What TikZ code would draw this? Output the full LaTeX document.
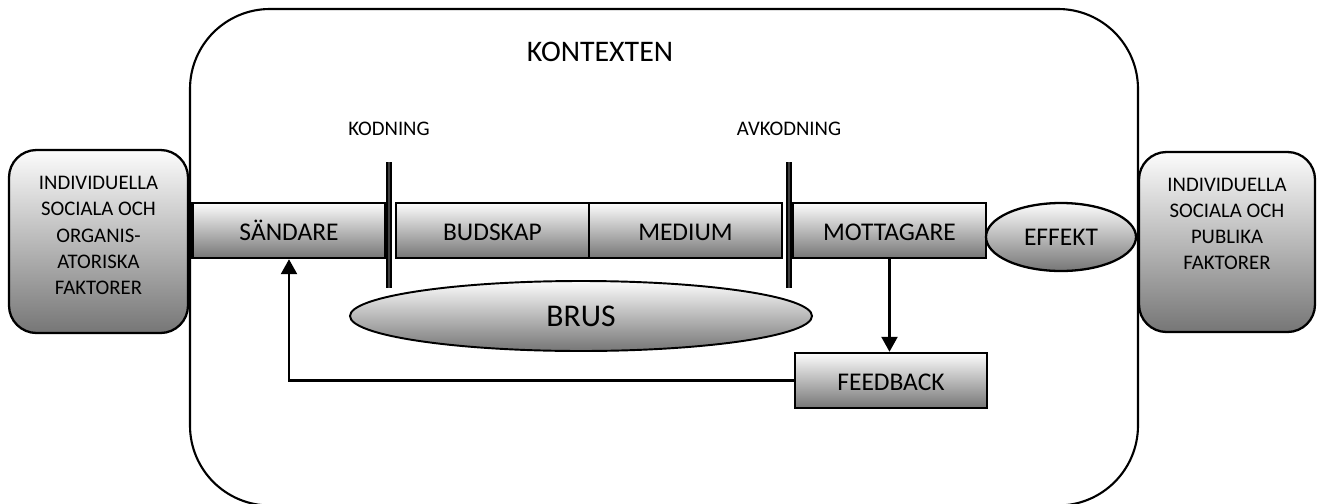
\documentclass[tikz,border=0pt]{standalone}
\usepackage{fontspec}
\setmainfont{Carlito}
\usepackage{tikz}
\usetikzlibrary{calc, shapes.geometric, arrows.meta}
\definecolor{light}{RGB}{252, 252, 252}
\definecolor{mid}{RGB}{118, 118, 118}
\newcommand{\boxfont}{\fontsize{14.5}{17}\selectfont}
\newcommand{\smallfont}{\fontsize{11.8}{14.9}\selectfont}
\tikzset{
  grayfade/.style={top color=light, bottom color=mid},
  part/.style={draw, grayfade, line width=1.4pt, minimum width=3.86cm,
               minimum height=1.1cm, text height=2.8ex, text depth=0.3ex, font=\boxfont},
  sidebox/.style={draw, grayfade, line width=1.3pt, rounded corners=0.55cm},
  bar/.style={line width=1.1pt, double=darkgray, double distance=0.8pt},
  flow/.style={line width=1.4pt, -{Triangle[length=3mm, width=3.2mm]}}
}
\begin{document}
\begin{tikzpicture}[scale=1, thick]

  \useasboundingbox (0, 0) rectangle (26.38, 10.06);

  \draw[line width=1.2pt, rounded corners=1.6cm] (3.80, -0.05) rectangle (22.76, 9.88);
  \node[font=\fontsize{17}{20}\selectfont] (kontexten) at (12.0, 9.02) {KONTEXTEN};

  \node[sidebox, minimum width=3.58cm, minimum height=3.66cm] (leftbox) at (1.97, 5.23) {};
  \node[align=center, font=\smallfont] (lefttext) at (1.97, 5.35)
    {INDIVIDUELLA\\SOCIALA OCH\\ORGANIS-\\ATORISKA\\FAKTORER};
  \node[sidebox, minimum width=3.52cm, minimum height=3.60cm] (rightbox) at (24.54, 5.22) {};
  \node[align=center, font=\smallfont] (righttext) at (24.54, 5.58)
    {INDIVIDUELLA\\SOCIALA OCH\\PUBLIKA\\FAKTORER};

  \foreach \name/\x/\txt in {sandare/5.78/SÄNDARE, budskap/9.85/BUDSKAP,
                             medium/13.71/MEDIUM, mottagare/17.79/MOTTAGARE} {
    \node[part] (\name) at (\x, 5.45) {\txt};
  }

  \node[ellipse, draw, grayfade, line width=1.3pt, inner sep=0pt, minimum width=3.0cm,
        minimum height=1.36cm, font=\boxfont] (effekt) at (21.22, 5.32) {EFFEKT};

  \foreach \name/\x/\txt in {kodning/7.78/KODNING, avkodning/15.78/AVKODNING} {
    \node[font=\smallfont] (\name) at (\x, 7.49) {\txt};
    \draw[bar] (\x, 6.82) -- (\x, 4.30);
  }

  \node[ellipse, draw, grayfade, line width=1.1pt, inner sep=0pt, minimum width=9.24cm,
        minimum height=1.40cm, font=\fontsize{18}{21}\selectfont] (brus) at (11.62, 3.74) {BRUS};

  \node[part, minimum width=3.84cm] (feedback) at (17.82, 2.45) {FEEDBACK};

  \draw[flow] (mottagare.south) -- (mottagare.south |- feedback.north);
  \draw[flow] (feedback.west) -| (sandare.south);

\end{tikzpicture}
\end{document}
